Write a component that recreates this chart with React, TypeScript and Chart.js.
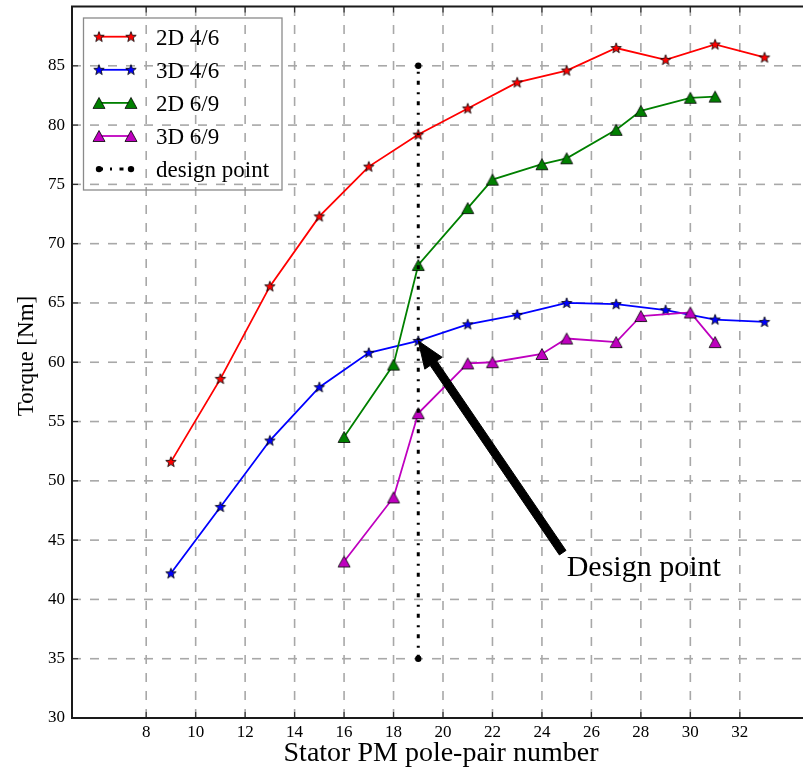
import React, { useEffect, useRef } from 'react';
import { Chart, registerables } from 'chart.js';
Chart.register(...registerables);

// ---------- data ----------
const poles46 = [9, 11, 13, 15, 17, 19, 21, 23, 25, 27, 29, 31, 33];
const torque2D46 = [51.6, 58.6, 66.4, 72.3, 76.5, 79.2, 81.4, 83.6, 84.6, 86.5, 85.5, 86.8, 85.7];
const torque3D46 = [42.2, 47.8, 53.4, 57.9, 60.8, 61.8, 63.2, 64.0, 65.0, 64.9, 64.4, 63.6, 63.4];
const poles69 = [16, 18, 19, 21, 22, 24, 25, 27, 28, 30, 31];
const torque2D69 = [53.7, 59.8, 68.2, 73.0, 75.4, 76.7, 77.2, 79.6, 81.2, 82.3, 82.4];
const torque3D69 = [43.2, 48.6, 55.7, 59.9, 60.0, 60.7, 62.0, 61.7, 63.9, 64.2, 61.7];
const designX = [19, 19];
const designY = [35, 85];
const xTicks = [8, 10, 12, 14, 16, 18, 20, 22, 24, 26, 28, 30, 32];
const yTicks = [30, 35, 40, 45, 50, 55, 60, 65, 70, 75, 80, 85];
const seriesLabels = ['2D 4/6', '3D 4/6', '2D 6/9', '3D 6/9', 'design point'];
const seriesColors = ['#ff0000', '#0000ff', '#008000', '#bf00bf', '#000000'];
const xTitle = 'Stator PM pole-pair number';
const yTitle = 'Torque [Nm]';
const annotText = 'Design point';
const annotTextPos = { x: 25, y: 42 };
const annotTarget = { x: 19, y: 61.8 };

const SERIF = "'Liberation Serif', 'DejaVu Serif', serif";
const DESIGN_DASH = [4, 7, 2, 7.5];

function makeStar(fill: string): HTMLCanvasElement {
  const c = document.createElement('canvas');
  c.width = 14; c.height = 14;
  const ctx = c.getContext('2d')!;
  const cx = 7, cy = 7.3, R = 5.5, r = 2.3;
  ctx.beginPath();
  for (let i = 0; i < 10; i++) {
    const rad = (i % 2 === 0 ? R : r);
    const a = -Math.PI / 2 + (i * Math.PI) / 5;
    const x = cx + rad * Math.cos(a), y = cy + rad * Math.sin(a);
    if (i === 0) ctx.moveTo(x, y); else ctx.lineTo(x, y);
  }
  ctx.closePath();
  ctx.fillStyle = fill; ctx.fill();
  ctx.lineWidth = 0.8; ctx.strokeStyle = '#000'; ctx.stroke();
  return c;
}

function makeTriangle(fill: string): HTMLCanvasElement {
  const c = document.createElement('canvas');
  c.width = 16; c.height = 16;
  const ctx = c.getContext('2d')!;
  const cx = 8, cy = 8, w = 12, h = 11;
  ctx.beginPath();
  ctx.moveTo(cx, cy - h / 2);
  ctx.lineTo(cx + w / 2, cy + h / 2);
  ctx.lineTo(cx - w / 2, cy + h / 2);
  ctx.closePath();
  ctx.fillStyle = fill; ctx.fill();
  ctx.lineWidth = 0.8; ctx.strokeStyle = '#000'; ctx.stroke();
  return c;
}

function toPts(xs: number[], ys: number[]) {
  return xs.map((x, i) => ({ x, y: ys[i] }));
}

function zeroPad(s: any) {
  s.paddingTop = 0; s.paddingBottom = 0; s.paddingLeft = 0; s.paddingRight = 0;
}

export default function App() {
  const ref = useRef<HTMLCanvasElement | null>(null);

  useEffect(() => {
    const canvas = ref.current;
    if (!canvas) return;
    const markers = [
      makeStar(seriesColors[0]),
      makeStar(seriesColors[1]),
      makeTriangle(seriesColors[2]),
      makeTriangle(seriesColors[3]),
    ];

    const custom = {
      id: 'custom',
      beforeDatasetsDraw(chart: any) {
        const { ctx, chartArea: a, scales } = chart;
        ctx.save();
        ctx.strokeStyle = '#a8a8a8';
        ctx.lineWidth = 1.6;
        ctx.setLineDash([9, 9]);
        ctx.lineDashOffset = 0;
        for (const v of xTicks) {
          const x = scales.x.getPixelForValue(v);
          ctx.beginPath(); ctx.moveTo(x, a.bottom); ctx.lineTo(x, a.top); ctx.stroke();
        }
        for (const v of yTicks) {
          const y = scales.y.getPixelForValue(v);
          ctx.beginPath(); ctx.moveTo(a.left, y); ctx.lineTo(a.right, y); ctx.stroke();
        }
        ctx.restore();
      },
      afterDatasetsDraw(chart: any) {
        const { ctx, chartArea: a, scales } = chart;
        ctx.save();
        // tick marks (inward)
        ctx.strokeStyle = '#333';
        ctx.lineWidth = 1.2;
        for (const v of xTicks) {
          const x = scales.x.getPixelForValue(v);
          ctx.beginPath(); ctx.moveTo(x, a.bottom); ctx.lineTo(x, a.bottom - 6); ctx.stroke();
          ctx.beginPath(); ctx.moveTo(x, a.top); ctx.lineTo(x, a.top + 6); ctx.stroke();
        }
        for (const v of yTicks) {
          const y = scales.y.getPixelForValue(v);
          ctx.beginPath(); ctx.moveTo(a.left, y); ctx.lineTo(a.left + 6, y); ctx.stroke();
        }
        // spines
        ctx.strokeStyle = '#1a1a1a';
        ctx.lineWidth = 2;
        ctx.beginPath();
        ctx.moveTo(a.right + 2, a.top); ctx.lineTo(a.left, a.top);
        ctx.lineTo(a.left, a.bottom); ctx.lineTo(a.right + 2, a.bottom);
        ctx.stroke();

        // annotation arrow
        const tx = scales.x.getPixelForValue(annotTextPos.x);
        const ty = scales.y.getPixelForValue(annotTextPos.y);
        const x0 = tx - 4, y0 = ty - 23;
        const x1 = scales.x.getPixelForValue(annotTarget.x);
        const y1 = scales.y.getPixelForValue(annotTarget.y);
        const dx = x1 - x0, dy = y1 - y0, len = Math.hypot(dx, dy);
        const ux = dx / len, uy = dy / len, px = -uy, py = ux;
        const hl = 27, hw = 10.5, sw = 4;
        const bx = x1 - ux * hl, by = y1 - uy * hl;
        ctx.beginPath();
        ctx.moveTo(x0 + px * sw, y0 + py * sw);
        ctx.lineTo(bx + px * sw, by + py * sw);
        ctx.lineTo(bx + px * hw, by + py * hw);
        ctx.lineTo(x1, y1);
        ctx.lineTo(bx - px * hw, by - py * hw);
        ctx.lineTo(bx - px * sw, by - py * sw);
        ctx.lineTo(x0 - px * sw, y0 - py * sw);
        ctx.closePath();
        ctx.fillStyle = '#000';
        ctx.fill();
        ctx.lineWidth = 1; ctx.strokeStyle = '#000'; ctx.stroke();

        ctx.font = `30px ${SERIF}`;
        ctx.textAlign = 'left';
        ctx.textBaseline = 'alphabetic';
        ctx.fillStyle = '#000';
        ctx.fillText(annotText, tx, ty);

        // legend
        const lx = 83.5, ly = 18, lw = 198.5, lh = 172;
        ctx.strokeStyle = '#8a8a8a';
        ctx.lineWidth = 1.3;
        ctx.strokeRect(lx, ly, lw, lh);
        const rowY0 = 36.7, rowStep = 33.1;
        const lineX0 = 99, lineX1 = 131;
        ctx.font = `23px ${SERIF}`;
        for (let i = 0; i < seriesLabels.length; i++) {
          const cy = rowY0 + i * rowStep;
          ctx.save();
          if (i < 4) {
            ctx.strokeStyle = seriesColors[i];
            ctx.lineWidth = 1.8;
            ctx.beginPath(); ctx.moveTo(lineX0, cy); ctx.lineTo(lineX1, cy); ctx.stroke();
            const m = markers[i];
            ctx.drawImage(m, lineX0 - m.width / 2, cy - m.height / 2);
            ctx.drawImage(m, lineX1 - m.width / 2, cy - m.height / 2);
          } else {
            ctx.strokeStyle = '#000';
            ctx.lineWidth = 3;
            ctx.setLineDash(DESIGN_DASH);
            ctx.beginPath(); ctx.moveTo(lineX0, cy); ctx.lineTo(lineX1, cy); ctx.stroke();
            ctx.setLineDash([]);
            ctx.fillStyle = '#000';
            for (const mx of [lineX0, lineX1]) {
              ctx.beginPath(); ctx.arc(mx, cy, 3.2, 0, Math.PI * 2); ctx.fill();
            }
          }
          ctx.restore();
          ctx.fillStyle = '#000';
          ctx.textAlign = 'left';
          ctx.textBaseline = 'alphabetic';
          ctx.fillText(seriesLabels[i], 156, cy + 8);
        }

        // axis titles
        ctx.font = `28px ${SERIF}`;
        ctx.textAlign = 'center';
        ctx.textBaseline = 'alphabetic';
        ctx.fillText(xTitle, 441, 761);
        ctx.save();
        ctx.translate(33, 356);
        ctx.rotate(-Math.PI / 2);
        ctx.font = `23px ${SERIF}`;
        ctx.fillText(yTitle, 0, 0);
        ctx.restore();
        ctx.restore();
      },
    };

    const chart = new Chart(canvas, {
      type: 'line',
      data: {
        datasets: [
          {
            label: seriesLabels[0], data: toPts(poles46, torque2D46),
            borderColor: seriesColors[0], borderWidth: 1.8,
            pointStyle: markers[0] as any, pointRadius: 6, order: 4,
          },
          {
            label: seriesLabels[1], data: toPts(poles46, torque3D46),
            borderColor: seriesColors[1], borderWidth: 1.8,
            pointStyle: markers[1] as any, pointRadius: 6, order: 3,
          },
          {
            label: seriesLabels[2], data: toPts(poles69, torque2D69),
            borderColor: seriesColors[2], borderWidth: 1.8,
            pointStyle: markers[2] as any, pointRadius: 6, order: 2,
          },
          {
            label: seriesLabels[3], data: toPts(poles69, torque3D69),
            borderColor: seriesColors[3], borderWidth: 1.8,
            pointStyle: markers[3] as any, pointRadius: 6, order: 1,
          },
          {
            label: seriesLabels[4], data: toPts(designX, designY),
            borderColor: '#000', borderWidth: 3, borderDash: DESIGN_DASH,
            pointStyle: 'circle', pointRadius: 3.2, pointBorderWidth: 0,
            pointBackgroundColor: '#000', order: 0,
          },
        ],
      },
      options: {
        responsive: false,
        animation: false,
        events: [],
        layout: { autoPadding: false, padding: { top: 6.5, left: 0, right: 0, bottom: 0 } },
        plugins: { legend: { display: false }, tooltip: { enabled: false }, title: { display: false } },
        elements: { line: { tension: 0, fill: false } },
        scales: {
          x: {
            type: 'linear', min: 5, max: 35,
            afterBuildTicks: (s: any) => { s.ticks = xTicks.map((v) => ({ value: v })); },
            afterFit: (s: any) => { s.height = 50; zeroPad(s); },
            grid: { display: false, drawTicks: false },
            border: { display: false },
            ticks: {
              font: { family: SERIF, size: 17 }, color: '#000', padding: 4,
              maxRotation: 0, autoSkip: false, callback: (v: any) => String(v),
            },
          },
          y: {
            type: 'linear', min: 30, max: 90,
            afterBuildTicks: (s: any) => { s.ticks = yTicks.map((v) => ({ value: v })); },
            afterFit: (s: any) => { s.width = 72; zeroPad(s); },
            grid: { display: false, drawTicks: false },
            border: { display: false },
            ticks: {
              font: { family: SERIF, size: 17 }, color: '#000', padding: 7,
              autoSkip: false, callback: (v: any) => String(v),
            },
          },
        },
      },
      plugins: [custom],
    } as any);

    return () => chart.destroy();
  }, []);

  return (
    <div style={{ position: 'fixed', left: 0, top: 0, width: 803, height: 768, overflow: 'hidden', background: '#fff' }}>
      <canvas ref={ref} width={814} height={768} style={{ display: 'block', width: 814, height: 768 }} />
    </div>
  );
}
